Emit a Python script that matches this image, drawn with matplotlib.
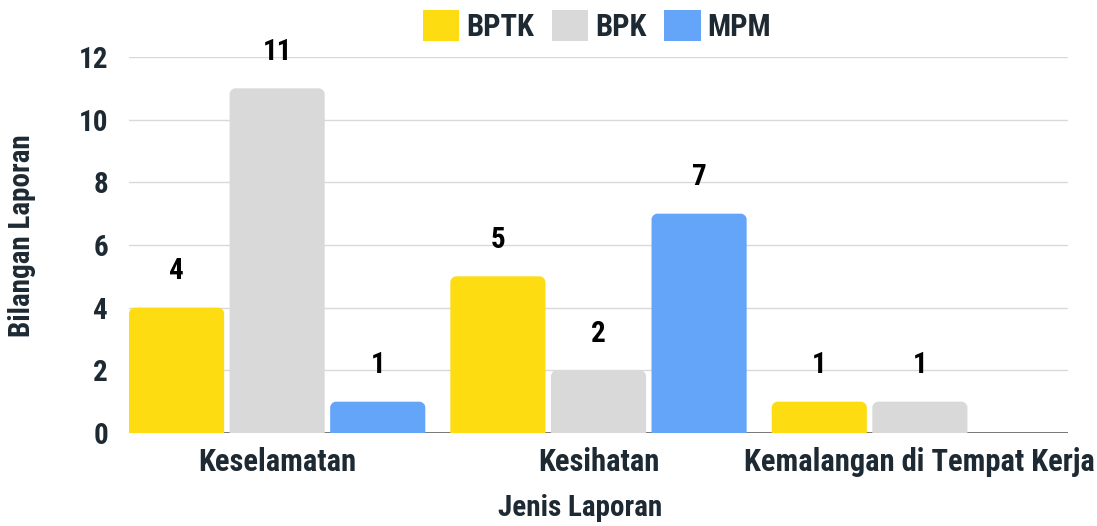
import matplotlib
matplotlib.use("Agg")
import matplotlib.pyplot as plt
from matplotlib.path import Path
from matplotlib.patches import PathPatch, Patch
from matplotlib import font_manager as fm

categories = ["Keselamatan", "Kesihatan", "Kemalangan di Tempat Kerja"]
series_names = ["BPTK", "BPK", "MPM"]
bptk = [4, 5, 1]
bpk = [11, 2, 1]
mpm = [1, 7, 0]
series_values = [bptk, bpk, mpm]
colors = ["#FDDC12", "#D9D9D9", "#64A5F9"]
yticks = [0, 2, 4, 6, 8, 10, 12]
xlabel = "Jenis Laporan"
ylabel = "Bilangan Laporan"

avail = {f.name for f in fm.fontManager.ttflist}
family = "DejaVu Sans"
for cand in ["Roboto Condensed", "Liberation Sans Narrow", "Roboto"]:
    if cand in avail:
        family = cand
        break
plt.rcParams["font.family"] = [family, "DejaVu Sans"]
plt.rcParams["font.weight"] = "bold"

TXT = "#1E2A33"
W, H = 1097, 526
fig = plt.figure(figsize=(W / 100, H / 100), dpi=100)
ax_left, ax_right, ax_top, ax_bottom = 129, 1068, 57, 433
ax = fig.add_axes([ax_left / W, 1 - ax_bottom / H, (ax_right - ax_left) / W, (ax_bottom - ax_top) / H])

step = 0.313
width = 0.296
xlim = (-step - width / 2, 2 + step + width / 2)
ax.set_xlim(*xlim)
ax.set_ylim(0, 12)

xpp = (xlim[1] - xlim[0]) / (ax_right - ax_left)
ypp = 12 / (ax_bottom - ax_top)
r_px = 6
rx, ry = r_px * xpp, r_px * ypp
k = 0.5523


def rounded_bar(x0, x1, h):
    r_y = min(ry, h / 2)
    verts = [
        (x0, 0), (x0, h - r_y),
        (x0, h - r_y + r_y * k), (x0 + rx - rx * k, h), (x0 + rx, h),
        (x1 - rx, h),
        (x1 - rx + rx * k, h), (x1, h - r_y + r_y * k), (x1, h - r_y),
        (x1, 0), (x0, 0),
    ]
    codes = [Path.MOVETO, Path.LINETO,
             Path.CURVE4, Path.CURVE4, Path.CURVE4,
             Path.LINETO,
             Path.CURVE4, Path.CURVE4, Path.CURVE4,
             Path.LINETO, Path.CLOSEPOLY]
    return Path(verts, codes)


for si, (vals, col) in enumerate(zip(series_values, colors)):
    for ci, v in enumerate(vals):
        cx = ci + (si - 1) * step
        if v <= 0:
            continue
        patch = PathPatch(rounded_bar(cx - width / 2, cx + width / 2, v),
                          facecolor=col, edgecolor="none", zorder=2)
        ax.add_patch(patch)
        ax.annotate(str(v), (cx, v), xytext=(0, 20.5), textcoords="offset points",
                    ha="center", va="baseline", fontsize=21, fontweight="bold",
                    color="black", zorder=4)

ax.set_yticks(yticks)
ax.set_yticklabels([str(t) for t in yticks])
ax.set_xticks(range(len(categories)))
ax.set_xticklabels(categories)
ax.tick_params(axis="both", length=0, labelcolor=TXT)
ax.tick_params(axis="y", pad=15, labelsize=21)
ax.tick_params(axis="x", pad=10, labelsize=22)
for lab in ax.get_xticklabels() + ax.get_yticklabels():
    lab.set_fontweight("bold")
for s in ax.spines.values():
    s.set_visible(False)
ax.yaxis.grid(True, color="#D9D9D9", lw=1)
ax.set_axisbelow(True)
ax.axhline(0, color="#777777", lw=1.4, zorder=1.5)

fig.text(580 / W, 1 - 508 / H, xlabel, ha="center", va="center",
         fontsize=21, fontweight="bold", color=TXT)
fig.text(22 / W, 1 - 236 / H, ylabel, ha="center", va="center", rotation=90,
         fontsize=21, fontweight="bold", color=TXT)

handles = [Patch(facecolor=c, edgecolor="none", label=n) for c, n in zip(colors, series_names)]
fig.legend(handles=handles, loc="center", bbox_to_anchor=(597 / W, 1 - 26 / H), ncol=3,
           frameon=False, handlelength=1.2, handleheight=1.15, handletextpad=0.22,
           columnspacing=0.58, prop={"size": 22, "weight": "bold"}, labelcolor=TXT)

fig.savefig("out.png", dpi=100)
